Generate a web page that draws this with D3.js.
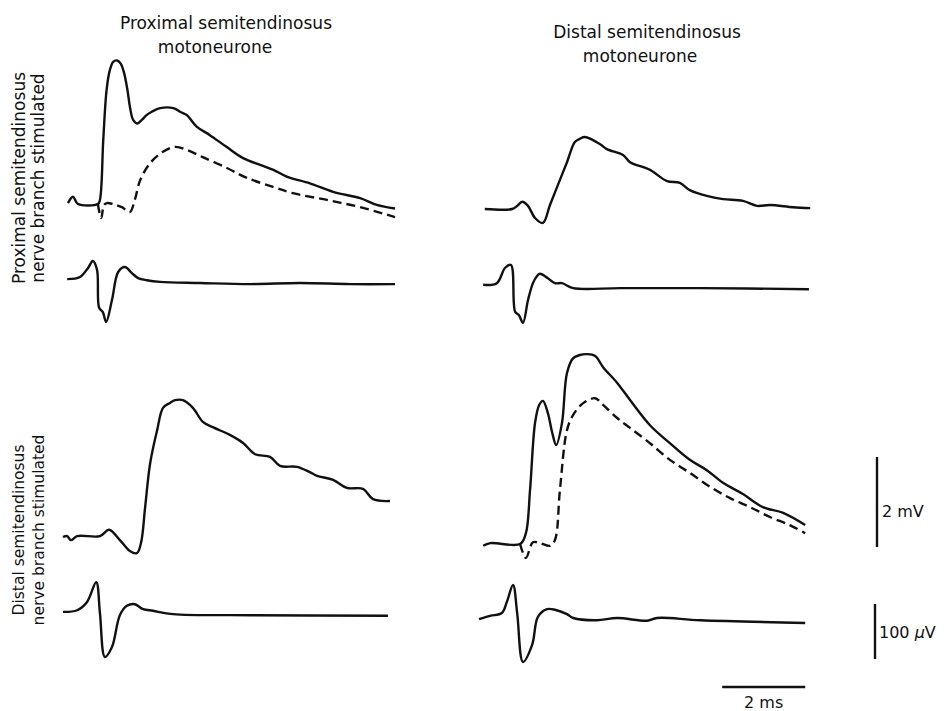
<!DOCTYPE html>
<html>
<head>
<meta charset="utf-8">
<script src="https://cdn.jsdelivr.net/npm/d3@7"></script>
<style>
  body { margin: 0; background: #fff; }
  svg { display: block; }
  text { font-family: "DejaVu Sans", sans-serif; fill: #111; }
</style>
</head>
<body>
<svg id="chart" width="946" height="711"></svg>
<script>
// traces: [time (ms), amplitude]
// EPSPs in mV, nerve volleys in uV

// proximal motoneurone, proximal branch stimulated
var ppEpsp = [[0.12,0.02],[0.24,0.16],[0.36,0],[0.84,0],[0.89,0.09],[0.97,1.42],[1.05,2.53],[1.13,2.98],
  [1.21,3.16],[1.30,3.19],[1.39,3.12],[1.47,2.92],[1.55,2.55],[1.62,2.12],[1.69,1.87],[1.79,1.79],[1.90,1.87],
  [2.02,1.98],[2.14,2.05],[2.34,2.13],[2.66,2.13],[2.82,2.05],[2.98,1.98],[3.22,1.72],[3.54,1.53],
  [3.94,1.27],[4.34,1.02],[4.75,0.87],[5.07,0.76],[5.39,0.61],[5.95,0.46],[6.51,0.27],[7.16,0.13],
  [7.56,-0.02],[8.00,-0.10]];
var ppEpspCollided = [[0.84,0],[0.92,-0.31],[0.99,-0.02],[1.06,0.02],[1.20,0],[1.42,-0.07],[1.61,-0.18],
  [1.73,0.09],[1.86,0.53],[2.10,0.91],[2.41,1.16],[2.70,1.27],[2.99,1.20],[3.37,1.04],[3.95,0.80],
  [4.43,0.58],[5.06,0.38],[5.54,0.24],[6.36,0.09],[7.16,-0.07],[8.00,-0.29]];
var ppVolley = [[0.10,7],[0.41,11],[0.60,27],[0.72,40],[0.82,24],[0.87,-45],[0.96,-53],[1.04,-71],
  [1.18,-31],[1.33,20],[1.49,29],[1.66,18],[1.81,9],[2.02,5],[2.34,2],[3.30,0],[4.51,-2],[5.71,0],
  [6.92,-2],[8.00,-2]];

// distal motoneurone, proximal branch stimulated
var dpEpsp = [[0.14,0],[0.80,0],[0.92,0.07],[1.04,0.16],[1.18,0.07],[1.35,-0.20],[1.54,-0.31],[1.71,0.09],
  [1.90,0.53],[2.12,1.04],[2.31,1.49],[2.43,1.56],[2.55,1.60],[2.92,1.44],[3.08,1.33],[3.47,1.20],
  [3.64,1.04],[4.12,0.87],[4.53,0.62],[4.84,0.58],[5.08,0.42],[5.49,0.29],[5.88,0.22],[6.36,0.18],
  [6.70,0.07],[7.01,0.09],[7.57,0.04],[7.98,0.02]];
var dpVolley = [[0.10,4],[0.43,7],[0.63,35],[0.77,40],[0.87,-45],[0.96,-51],[1.06,-65],[1.18,-24],
  [1.30,7],[1.40,20],[1.47,24],[1.66,16],[1.83,7],[2.00,7],[2.27,-2],[3.40,-2],[5.33,-2],[7.95,-4]];

// proximal motoneurone, distal branch stimulated
var pdEpsp = [[0,0],[0.10,0.02],[0.19,-0.07],[0.34,0.02],[0.89,0.02],[1.11,0.16],[1.37,-0.07],
  [1.61,-0.31],[1.78,-0.36],[1.88,-0.13],[1.98,0.67],[2.10,1.64],[2.27,2.38],[2.41,2.87],[2.58,2.98],
  [2.70,3.04],[2.89,3.04],[3.13,2.87],[3.37,2.56],[3.61,2.44],[4.02,2.27],[4.34,2.09],[4.63,1.84],
  [4.99,1.78],[5.23,1.58],[5.64,1.56],[5.95,1.44],[6.12,1.36],[6.51,1.27],[6.84,1.09],[7.23,1.07],
  [7.47,0.84],[7.88,0.80]];
var pdVolley = [[0,2],[0.34,5],[0.58,20],[0.80,56],[0.89,0],[1.01,-80],[1.18,-62],[1.37,-4],[1.54,13],
  [1.73,16],[1.93,7],[2.17,4],[2.65,-2],[4.51,-4],[7.83,-5]];

// distal motoneurone, distal branch stimulated
var ddEpsp = [[0.10,-0.04],[0.27,0.02],[0.99,0],[1.13,0.24],[1.23,1.20],[1.35,2.69],[1.45,3.09],
  [1.54,3.18],[1.66,2.91],[1.76,2.49],[1.86,2.20],[2.00,2.69],[2.12,3.80],[2.27,4.13],[2.43,4.20],
  [2.60,4.22],[2.80,4.18],[2.99,3.93],[3.33,3.58],[3.64,3.20],[4.12,2.64],[4.60,2.24],[5.08,1.87],
  [5.49,1.64],[5.88,1.36],[6.36,1.11],[6.84,0.82],[7.33,0.69],[7.86,0.42]];
var ddEpspCollided = [[0.99,0],[1.13,-0.31],[1.30,0.04],[1.47,0.02],[1.71,-0.04],[1.83,0.09],[1.95,1.20],
  [2.12,2.53],[2.27,2.87],[2.51,3.13],[2.80,3.24],[2.99,3.09],[3.33,2.80],[3.64,2.58],[4.12,2.24],
  [4.60,1.87],[5.08,1.58],[5.57,1.27],[6.05,1.02],[6.53,0.82],[7.01,0.60],[7.49,0.42],[7.86,0.24]];
var ddVolley = [[0,-2],[0.27,4],[0.55,9],[0.67,29],[0.82,60],[0.92,9],[1.06,-80],[1.28,-49],[1.42,2],
  [1.64,16],[1.83,15],[2.12,7],[2.27,0],[2.84,-4],[3.33,0],[4.05,-5],[4.29,0],[5.33,-4],[7.86,-9]];

var columnTitles = [["Proximal semitendinosus", "motoneurone"], ["Distal semitendinosus", "motoneurone"]];
var rowTitles = [["Proximal semitendinosus", "nerve branch stimulated"], ["Distal semitendinosus", "nerve branch stimulated"]];
var scaleBars = {ms: 2, mV: 2, uV: 100};

var svg = d3.select("#chart");
var pxPerMs = 41.5, pxPerMv = 45, pxPerUv = 0.55;

// one time scale per column
var xLeft = d3.scaleLinear().domain([0, 8]).range([63, 63 + 8 * pxPerMs]);
var xRight = d3.scaleLinear().domain([0, 8]).range([479, 479 + 8 * pxPerMs]);

function mvScale(baseline) {
  return d3.scaleLinear().domain([0, 1]).range([baseline, baseline - pxPerMv]);
}
function uvScale(baseline) {
  return d3.scaleLinear().domain([0, 100]).range([baseline, baseline - 100 * pxPerUv]);
}

var panels = [
  {x: xLeft, epsp: ppEpsp, collided: ppEpspCollided, volley: ppVolley, epspBase: 204, volleyBase: 283},
  {x: xRight, epsp: dpEpsp, collided: null, volley: dpVolley, epspBase: 209, volleyBase: 287},
  {x: xLeft, epsp: pdEpsp, collided: null, volley: pdVolley, epspBase: 537, volleyBase: 613},
  {x: xRight, epsp: ddEpsp, collided: ddEpspCollided, volley: ddVolley, epspBase: 544, volleyBase: 618}
];

function drawTrace(data, x, y, dashed) {
  var line = d3.line()
    .x(function (d) { return x(d[0]); })
    .y(function (d) { return y(d[1]); })
    .curve(d3.curveCatmullRom.alpha(0.5));
  svg.append("path")
    .datum(data)
    .attr("d", line)
    .attr("fill", "none")
    .attr("stroke", "#111")
    .attr("stroke-width", 2.4)
    .attr("stroke-linejoin", "round")
    .attr("stroke-dasharray", dashed ? "9,5" : null);
}

panels.forEach(function (p) {
  var yE = mvScale(p.epspBase);
  drawTrace(p.epsp, p.x, yE, false);
  if (p.collided) {
    drawTrace(p.collided, p.x, yE, true);
  }
  drawTrace(p.volley, p.x, uvScale(p.volleyBase), false);
});

// column headings
var headPos = [[226, 29, 215, 53], [647, 38, 640, 62]];
columnTitles.forEach(function (t, i) {
  var h = headPos[i];
  svg.append("text").attr("x", h[0]).attr("y", h[1]).attr("text-anchor", "middle")
    .attr("font-size", 17).text(t[0]);
  svg.append("text").attr("x", h[2]).attr("y", h[3]).attr("text-anchor", "middle")
    .attr("font-size", 17).text(t[1]);
});

// row headings, rotated
var rowPos = [[25, 44, 178, 17], [24, 44, 530, 15.5]];
rowTitles.forEach(function (t, i) {
  var r = rowPos[i];
  [0, 1].forEach(function (k) {
    svg.append("text")
      .attr("transform", "translate(" + r[k] + "," + r[2] + ") rotate(-90)")
      .attr("text-anchor", "middle")
      .attr("font-size", r[3])
      .text(t[k]);
  });
});

// scale bars
var barX = d3.scaleLinear().domain([0, scaleBars.ms]).range([xRight(5.86), xRight(5.86 + scaleBars.ms)]);
svg.append("line")
  .attr("x1", barX(0)).attr("x2", barX(scaleBars.ms)).attr("y1", 687).attr("y2", 687)
  .attr("stroke", "#111").attr("stroke-width", 2.4);
svg.append("text").attr("x", (barX(0) + barX(scaleBars.ms)) / 2).attr("y", 708)
  .attr("text-anchor", "middle").attr("font-size", 16).text(scaleBars.ms + " ms");

var mvBar = mvScale(547);
svg.append("line")
  .attr("x1", 877).attr("x2", 877).attr("y1", mvBar(0)).attr("y2", mvBar(scaleBars.mV))
  .attr("stroke", "#111").attr("stroke-width", 2.4);
svg.append("text").attr("x", 882).attr("y", 517).attr("font-size", 16).text(scaleBars.mV + " mV");

var uvBar = uvScale(659);
svg.append("line")
  .attr("x1", 875).attr("x2", 875).attr("y1", uvBar(0)).attr("y2", uvBar(scaleBars.uV))
  .attr("stroke", "#111").attr("stroke-width", 2.4);
var uvText = svg.append("text").attr("x", 879).attr("y", 638).attr("font-size", 16);
uvText.append("tspan").text(scaleBars.uV + " ");
uvText.append("tspan").attr("font-style", "italic").text("\u03bc");
uvText.append("tspan").text("V");
</script>
</body>
</html>
